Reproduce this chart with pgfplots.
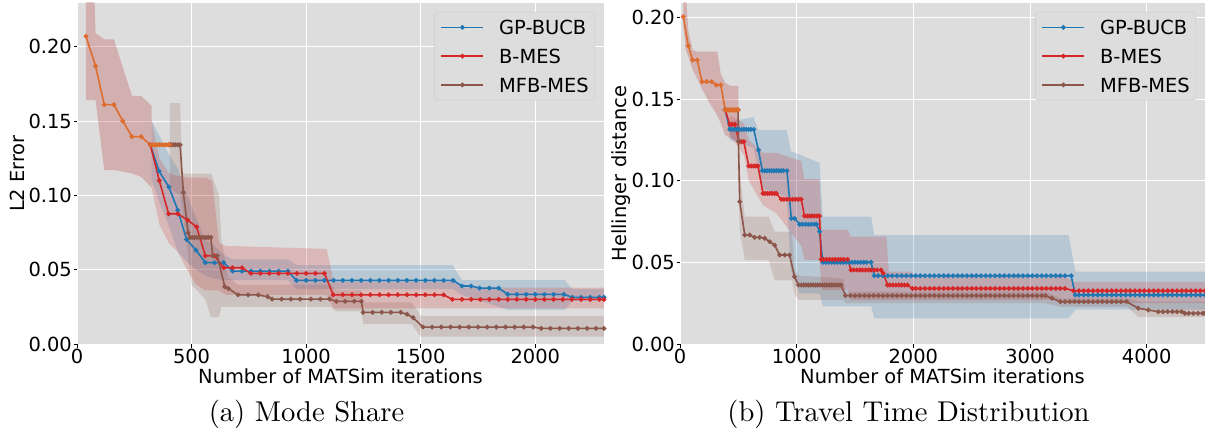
\documentclass[border=0pt]{standalone}
\usepackage{fontspec}
\usepackage{graphicx}
\usepackage{pgfplots}
\usepackage{pgfplotstable}
\pgfplotsset{compat=1.18}
\usepgfplotslibrary{fillbetween}
\newfontfamily\dejavu{DejaVu Sans}
\definecolor{bgc}{RGB}{221,221,221}
\definecolor{cblue}{HTML}{1F77B4}
\definecolor{cred}{HTML}{D62728}
\definecolor{cbrown}{HTML}{8C564B}
\definecolor{corange}{RGB}{222,108,45}
\definecolor{legedge}{RGB}{204,204,204}

% ---------- band tables (left: Mode Share) ----------
\pgfplotstableread{
x lo hi
39 0.164 0.240
75 0.164 0.240
81 0.164 0.209
119 0.117 0.205
161 0.117 0.205
200 0.116 0.186
240 0.1147 0.167
280 0.1124 0.167
320 0.106 0.161
326 0.105 0.160
}\bandSL
\pgfplotstableread{
x lo hi
326 0.110 0.150
360 0.095 0.140
400 0.080 0.128
440 0.062 0.118
480 0.055 0.100
520 0.050 0.085
560 0.046 0.070
600 0.044 0.066
640 0.043 0.060
680 0.043 0.057
920 0.043 0.057
960 0.037 0.053
1640 0.037 0.053
1680 0.033 0.043
1880 0.023 0.043
2130 0.023 0.043
2160 0.029 0.037
2300 0.029 0.037
}\bandBL
\pgfplotstableread{
x lo hi
326 0.105 0.150
360 0.080 0.125
400 0.068 0.115
440 0.062 0.113
480 0.050 0.112
520 0.040 0.112
560 0.036 0.112
590 0.036 0.110
620 0.036 0.068
650 0.033 0.066
1090 0.033 0.064
1120 0.024 0.042
1640 0.024 0.042
1680 0.024 0.038
2300 0.024 0.038
}\bandRL
\pgfplotstableread{
x lo hi
405 0.105 0.162
450 0.100 0.162
460 0.090 0.1147
500 0.040 0.1147
560 0.030 0.1147
585 0.018 0.1147
620 0.018 0.100
630 0.025 0.070
660 0.025 0.045
700 0.025 0.040
1110 0.025 0.040
1130 0.022 0.036
1240 0.022 0.036
1250 0.0134 0.028
1460 0.0134 0.028
1500 0.005 0.019
2300 0.005 0.019
}\bandNL

% ---------- band tables (right: Travel Time) ----------
\pgfplotstableread{
x lo hi
28 0.195 0.215
50 0.180 0.215
71 0.176 0.192
108 0.168 0.180
150 0.162 0.179
190 0.156 0.179
250 0.148 0.179
320 0.140 0.179
350 0.135 0.165
387 0.128 0.160
430 0.126 0.158
498 0.124 0.158
}\bandSR
\pgfplotstableread{
x lo hi
427 0.125 0.136
630 0.120 0.139
672 0.105 0.131
710 0.095 0.131
914 0.090 0.131
950 0.045 0.118
1025 0.031 0.116
1196 0.031 0.111
1224 0.023 0.078
1640 0.023 0.078
1665 0.0157 0.0667
3330 0.0157 0.0667
3390 0.021 0.0443
4500 0.021 0.0443
}\bandBR
\pgfplotstableread{
x lo hi
427 0.128 0.140
550 0.115 0.135
590 0.100 0.125
711 0.085 0.117
826 0.080 0.117
1039 0.060 0.112
1067 0.0514 0.101
1196 0.0514 0.101
1215 0.033 0.070
1440 0.033 0.0698
1466 0.027 0.0657
1770 0.027 0.0657
1790 0.027 0.0443
1990 0.027 0.0443
2010 0.027 0.0412
3300 0.027 0.0412
3380 0.025 0.038
4500 0.025 0.038
}\bandRR
\pgfplotstableread{
x lo hi
498 0.110 0.165
505 0.090 0.120
512 0.070 0.105
555 0.0514 0.078
760 0.0514 0.078
811 0.039 0.0688
960 0.039 0.0688
982 0.031 0.045
1016 0.027 0.042
1400 0.027 0.040
1420 0.025 0.032
3130 0.025 0.032
3260 0.0228 0.028
3830 0.0228 0.028
3930 0.0165 0.026
4500 0.0165 0.026
}\bandNR

\pgfplotsset{
  legend image code/.code={\draw[mark repeat=2,mark phase=2,#1] plot coordinates {(0bp,0bp) (21bp,0bp) (42bp,0bp)};},
  myaxis/.style={
    scale only axis, anchor=south west,
    axis background/.style={fill=bgc},
    axis line style={draw=none},
    xmajorgrids, ymajorgrids, grid style={white, line width=1bp},
    tick align=outside, tick pos=left, major tick length=3.5bp,
    tick style={black, line width=0.8bp},
    ticklabel style={font=\dejavu\fontsize{19.5}{23}\selectfont},
    /pgf/number format/assume math mode=true,
    /pgf/number format/1000 sep={},
    yticklabel style={/pgf/number format/fixed, /pgf/number format/fixed zerofill, /pgf/number format/precision=2, inner xsep=1.5bp},
    xticklabel style={inner ysep=1.5bp},
    scaled y ticks=false, scaled x ticks=false,
    label style={font=\dejavu\fontsize{19.5}{23}\selectfont},
    xlabel style={at={(axis description cs:0.5,0)}, anchor=base, yshift=-39bp},
    legend cell align=left,
    legend style={at={(1,1)}, anchor=north east, xshift=-9bp, yshift=-9bp,
      fill=bgc, draw=legedge, rounded corners=3bp,
      font=\dejavu\fontsize{19.5}{23}\selectfont,
      inner xsep=6bp, inner ysep=8bp, row sep=14.5bp, column sep=15bp,
      nodes={anchor=west, inner sep=0bp, text height=14.3bp, text depth=0bp}},
  },
  sb/.style={color=cblue, line width=1.6bp, mark=*, mark size=1.5bp},
  sr/.style={color=cred, line width=1.6bp, mark=*, mark size=1.5bp},
  sn/.style={color=cbrown, line width=1.6bp, mark=*, mark size=1.5bp},
  so/.style={color=corange, line width=1.6bp, mark=*, mark size=1.5bp},
}

\begin{document}
\begin{tikzpicture}

% ================= LEFT =================
\begin{axis}[myaxis,
  at={(77bp,-344bp)}, width=527bp, height=341bp,
  xmin=0, xmax=2300, ymin=0, ymax=0.2294,
  xtick={0,500,1000,1500,2000}, ytick={0,0.05,0.10,0.15,0.20},
  xlabel={Number of MATSim iterations},
  ylabel={L2 Error},
  ylabel style={at={(axis description cs:-0.0987,0.5)}, anchor=base},
]
\addplot[name path=SLu, draw=none, forget plot] table[x=x,y=hi]{\bandSL};
\addplot[name path=SLl, draw=none, forget plot] table[x=x,y=lo]{\bandSL};
\addplot[fill=cred!55!cbrown, fill opacity=0.28, draw=none, forget plot] fill between[of=SLu and SLl];
\addplot[name path=BLu, draw=none, forget plot] table[x=x,y=hi]{\bandBL};
\addplot[name path=BLl, draw=none, forget plot] table[x=x,y=lo]{\bandBL};
\addplot[fill=cblue, fill opacity=0.2, draw=none, forget plot] fill between[of=BLu and BLl];
\addplot[name path=RLu, draw=none, forget plot] table[x=x,y=hi]{\bandRL};
\addplot[name path=RLl, draw=none, forget plot] table[x=x,y=lo]{\bandRL};
\addplot[fill=cred, fill opacity=0.2, draw=none, forget plot] fill between[of=RLu and RLl];
\addplot[name path=NLu, draw=none, forget plot] table[x=x,y=hi]{\bandNL};
\addplot[name path=NLl, draw=none, forget plot] table[x=x,y=lo]{\bandNL};
\addplot[fill=cbrown, fill opacity=0.2, draw=none, forget plot] fill between[of=NLu and NLl];

\addplot[sb] coordinates {(320,0.134)(358,0.1163)(401,0.1057)(440,0.090)(478,0.0703)(519,0.0632)(560,0.0547)(600,0.0547)(640,0.0547)(679,0.049)(720,0.049)(760,0.049)(800,0.049)(840,0.049)(880,0.049)(920,0.049)(958,0.0428)(1000,0.0428)(1040,0.0428)(1080,0.0428)(1120,0.0428)(1160,0.0428)(1200,0.0428)(1240,0.0428)(1280,0.0428)(1320,0.0428)(1360,0.0428)(1400,0.0428)(1440,0.0428)(1480,0.0428)(1520,0.0428)(1560,0.0428)(1600,0.0428)(1641,0.0428)(1680,0.039)(1720,0.039)(1757,0.0376)(1800,0.0376)(1840,0.0376)(1880,0.0334)(1920,0.0334)(1960,0.0334)(2000,0.0334)(2040,0.0334)(2080,0.0334)(2125,0.0334)(2162,0.0314)(2200,0.0314)(2240,0.0314)(2280,0.0314)(2300,0.0314)};
\addlegendentry{GP-BUCB}
\addplot[sr] coordinates {(320,0.134)(359,0.110)(400,0.0876)(440,0.0876)(483,0.0833)(522,0.0788)(560,0.0594)(600,0.0594)(640,0.0513)(679,0.0513)(720,0.0513)(759,0.0475)(800,0.0475)(840,0.0475)(880,0.0475)(920,0.0475)(960,0.0475)(1000,0.0475)(1040,0.0475)(1080,0.0475)(1118,0.0331)(1160,0.0331)(1200,0.0331)(1240,0.0331)(1280,0.0331)(1320,0.0331)(1360,0.0331)(1400,0.0331)(1440,0.0331)(1480,0.0331)(1520,0.0331)(1560,0.0331)(1600,0.0331)(1638,0.030)(1680,0.030)(1720,0.030)(1760,0.030)(1800,0.030)(1840,0.030)(1880,0.030)(1920,0.030)(1960,0.030)(2000,0.030)(2040,0.030)(2080,0.030)(2120,0.030)(2160,0.030)(2200,0.030)(2240,0.030)(2280,0.030)(2300,0.030)};
\addlegendentry{B-MES}
\addplot[sn] coordinates {(405,0.134)(410,0.134)(420,0.134)(430,0.134)(440,0.134)(450,0.134)(464,0.102)(485,0.0748)(493,0.0717)(503,0.0717)(513,0.0717)(523,0.0717)(533,0.0717)(543,0.0717)(553,0.0717)(563,0.0717)(573,0.0717)(584,0.0717)(592,0.0594)(612,0.0594)(645,0.0385)(660,0.0374)(703,0.033)(747,0.033)(791,0.033)(832,0.0318)(852,0.0302)(893,0.0302)(933,0.0302)(974,0.0302)(1021,0.0302)(1062,0.0302)(1102,0.0302)(1132,0.0287)(1170,0.0287)(1210,0.0287)(1241,0.0287)(1249,0.0213)(1290,0.0213)(1330,0.0213)(1370,0.0213)(1413,0.0213)(1440,0.020)(1467,0.0177)(1510,0.0114)(1550,0.0114)(1590,0.0114)(1630,0.0114)(1670,0.0114)(1710,0.0114)(1750,0.0114)(1790,0.0114)(1830,0.0114)(1870,0.0114)(1910,0.0114)(1950,0.0114)(1990,0.0114)(2026,0.0105)(2066,0.0105)(2106,0.0105)(2146,0.0105)(2186,0.0105)(2226,0.0105)(2266,0.0105)(2300,0.0105)};
\addlegendentry{MFB-MES}
\addplot[so, forget plot] coordinates {(39,0.207)(81,0.187)(119,0.161)(161,0.161)(200,0.150)(240,0.1395)(280,0.1395)(320,0.134)(330,0.134)(340,0.134)(350,0.134)(360,0.134)(370,0.134)(380,0.134)(390,0.134)(400,0.134)(405,0.134)};
\end{axis}

% ================= RIGHT =================
\begin{axis}[myaxis,
  at={(680bp,-344bp)}, width=525bp, height=341bp,
  xmin=0, xmax=4500, ymin=0, ymax=0.2088,
  xtick={0,1000,2000,3000,4000}, ytick={0,0.05,0.10,0.15,0.20},
  xlabel={Number of MATSim iterations},
  ylabel={Hellinger distance},
  ylabel style={at={(axis description cs:-0.101,0.5)}, anchor=base},
]
\addplot[name path=SRu, draw=none, forget plot] table[x=x,y=hi]{\bandSR};
\addplot[name path=SRl, draw=none, forget plot] table[x=x,y=lo]{\bandSR};
\addplot[fill=cred!55!cbrown, fill opacity=0.28, draw=none, forget plot] fill between[of=SRu and SRl];
\addplot[name path=BRu, draw=none, forget plot] table[x=x,y=hi]{\bandBR};
\addplot[name path=BRl, draw=none, forget plot] table[x=x,y=lo]{\bandBR};
\addplot[fill=cblue, fill opacity=0.2, draw=none, forget plot] fill between[of=BRu and BRl];
\addplot[name path=RRu, draw=none, forget plot] table[x=x,y=hi]{\bandRR};
\addplot[name path=RRl, draw=none, forget plot] table[x=x,y=lo]{\bandRR};
\addplot[fill=cred, fill opacity=0.2, draw=none, forget plot] fill between[of=RRu and RRl];
\addplot[name path=NRu, draw=none, forget plot] table[x=x,y=hi]{\bandNR};
\addplot[name path=NRl, draw=none, forget plot] table[x=x,y=lo]{\bandNR};
\addplot[fill=cbrown, fill opacity=0.2, draw=none, forget plot] fill between[of=NRu and NRl];

\addplot[sb] coordinates {(387,0.1433)(427,0.1314)(447,0.1314)(467,0.1314)(487,0.1314)(507,0.1314)(527,0.1314)(547,0.1314)(567,0.1314)(587,0.1314)(607,0.1314)(632,0.1314)(672,0.1188)(706,0.1061)(726,0.1061)(746,0.1061)(766,0.1061)(786,0.1061)(806,0.1061)(826,0.1061)(846,0.1061)(866,0.1061)(886,0.1061)(917,0.1061)(954,0.0769)(982,0.0769)(1025,0.0733)(1050,0.0733)(1075,0.0733)(1100,0.0733)(1125,0.0733)(1150,0.0733)(1170,0.0733)(1196,0.0688)(1224,0.050)(1250,0.050)(1275,0.050)(1300,0.050)(1325,0.050)(1350,0.050)(1375,0.050)(1400,0.050)(1425,0.050)(1450,0.050)(1475,0.050)(1500,0.050)(1525,0.050)(1550,0.050)(1575,0.050)(1600,0.050)(1637,0.050)(1665,0.0418)(1700,0.0418)(1740,0.0418)(1780,0.0418)(1820,0.0418)(1860,0.0418)(1900,0.0418)(1940,0.0418)(1980,0.0418)(2020,0.0418)(2060,0.0418)(2100,0.0418)(2140,0.0418)(2180,0.0418)(2220,0.0418)(2260,0.0418)(2300,0.0418)(2340,0.0418)(2380,0.0418)(2420,0.0418)(2460,0.0418)(2500,0.0418)(2540,0.0418)(2580,0.0418)(2620,0.0418)(2660,0.0418)(2700,0.0418)(2740,0.0418)(2780,0.0418)(2820,0.0418)(2860,0.0418)(2900,0.0418)(2940,0.0418)(2980,0.0418)(3020,0.0418)(3060,0.0418)(3100,0.0418)(3140,0.0418)(3180,0.0418)(3220,0.0418)(3260,0.0418)(3300,0.0418)(3353,0.0418)(3388,0.030)(3420,0.030)(3460,0.030)(3500,0.030)(3540,0.030)(3580,0.030)(3620,0.030)(3660,0.030)(3700,0.030)(3740,0.030)(3780,0.030)(3820,0.030)(3860,0.030)(3900,0.030)(3940,0.030)(3980,0.030)(4020,0.030)(4060,0.030)(4100,0.030)(4140,0.030)(4180,0.030)(4220,0.030)(4260,0.030)(4300,0.030)(4340,0.030)(4380,0.030)(4420,0.030)(4460,0.030)(4500,0.030)};
\addlegendentry{GP-BUCB}
\addplot[sr] coordinates {(387,0.1433)(427,0.1345)(447,0.1345)(470,0.1345)(507,0.1239)(527,0.1239)(547,0.1239)(589,0.109)(610,0.109)(632,0.109)(650,0.109)(669,0.109)(711,0.0922)(730,0.0922)(750,0.0922)(770,0.0922)(790,0.0922)(810,0.0922)(826,0.0922)(868,0.0886)(890,0.0886)(915,0.0886)(940,0.0886)(965,0.0886)(990,0.0886)(1015,0.0886)(1039,0.0886)(1067,0.0784)(1090,0.0784)(1110,0.0784)(1130,0.0784)(1150,0.0784)(1175,0.0784)(1196,0.0784)(1210,0.0518)(1230,0.0518)(1255,0.0518)(1280,0.0518)(1305,0.0518)(1330,0.0518)(1355,0.0518)(1380,0.0518)(1405,0.0518)(1437,0.0518)(1466,0.0453)(1490,0.0453)(1515,0.0453)(1540,0.0453)(1565,0.0453)(1590,0.0453)(1615,0.0453)(1640,0.0453)(1665,0.0453)(1690,0.0453)(1722,0.0453)(1742,0.0433)(1779,0.0361)(1800,0.0361)(1825,0.0361)(1850,0.0361)(1875,0.0361)(1900,0.0361)(1925,0.0361)(1950,0.0361)(1993,0.034)(2020,0.034)(2060,0.034)(2100,0.034)(2140,0.034)(2180,0.034)(2220,0.034)(2260,0.034)(2300,0.034)(2340,0.034)(2380,0.034)(2420,0.034)(2460,0.034)(2500,0.034)(2540,0.034)(2580,0.034)(2620,0.034)(2660,0.034)(2700,0.034)(2740,0.034)(2780,0.034)(2820,0.034)(2860,0.034)(2900,0.034)(2940,0.034)(2980,0.034)(3020,0.034)(3060,0.034)(3100,0.034)(3140,0.034)(3180,0.034)(3220,0.034)(3260,0.034)(3300,0.034)(3373,0.0326)(3420,0.0326)(3460,0.0326)(3500,0.0326)(3540,0.0326)(3580,0.0326)(3620,0.0326)(3660,0.0326)(3700,0.0326)(3740,0.0326)(3780,0.0326)(3820,0.0326)(3860,0.0326)(3900,0.0326)(3940,0.0326)(3980,0.0326)(4020,0.0326)(4060,0.0326)(4100,0.0326)(4140,0.0326)(4180,0.0326)(4220,0.0326)(4260,0.0326)(4300,0.0326)(4340,0.0326)(4380,0.0326)(4420,0.0326)(4460,0.0326)(4500,0.0326)};
\addlegendentry{B-MES}
\addplot[sn] coordinates {(498,0.1433)(501,0.124)(512,0.0871)(555,0.0667)(598,0.0667)(640,0.0653)(683,0.0653)(726,0.0647)(769,0.0626)(811,0.0606)(854,0.0545)(897,0.0545)(939,0.0545)(982,0.0412)(1016,0.0361)(1040,0.0361)(1060,0.0361)(1080,0.0361)(1100,0.0361)(1120,0.0361)(1140,0.0361)(1160,0.0361)(1180,0.0361)(1200,0.0361)(1220,0.0361)(1240,0.0361)(1260,0.0361)(1280,0.0361)(1300,0.0361)(1320,0.0361)(1340,0.0361)(1360,0.0361)(1380,0.0361)(1418,0.0296)(1460,0.0296)(1500,0.0296)(1540,0.0296)(1580,0.0296)(1620,0.0296)(1660,0.0296)(1700,0.0296)(1740,0.0296)(1780,0.0296)(1820,0.0296)(1860,0.0296)(1900,0.0296)(1940,0.0296)(1980,0.0296)(2020,0.0296)(2060,0.0296)(2100,0.0296)(2140,0.0296)(2180,0.0296)(2220,0.0296)(2260,0.0296)(2300,0.0296)(2340,0.0296)(2380,0.0296)(2420,0.0296)(2460,0.0296)(2500,0.0296)(2540,0.0296)(2580,0.0296)(2620,0.0296)(2660,0.0296)(2700,0.0296)(2740,0.0296)(2780,0.0296)(2820,0.0296)(2860,0.0296)(2900,0.0296)(2940,0.0296)(2980,0.0296)(3020,0.0296)(3060,0.0296)(3100,0.0296)(3131,0.0296)(3188,0.028)(3260,0.0259)(3300,0.0259)(3340,0.0259)(3380,0.0259)(3420,0.0259)(3460,0.0259)(3500,0.0259)(3540,0.0259)(3580,0.0259)(3620,0.0259)(3660,0.0259)(3700,0.0259)(3740,0.0259)(3780,0.0259)(3828,0.0259)(3928,0.0219)(4014,0.0208)(4099,0.0198)(4140,0.0198)(4180,0.0198)(4220,0.0198)(4260,0.0198)(4300,0.0198)(4327,0.0188)(4360,0.0188)(4400,0.0188)(4440,0.0188)(4480,0.0188)(4500,0.0188)};
\addlegendentry{MFB-MES}
\addplot[so, forget plot] coordinates {(28,0.2004)(71,0.1826)(108,0.1739)(148,0.1739)(188,0.1606)(228,0.1606)(271,0.1606)(310,0.1586)(350,0.1586)(387,0.1433)(397,0.1433)(407,0.1433)(417,0.1433)(427,0.1433)(437,0.1433)(447,0.1433)(457,0.1433)(467,0.1433)(477,0.1433)(487,0.1433)(498,0.1433)};
\end{axis}

\node[anchor=base, inner sep=0pt] at (306.5bp,-421bp) {\scalebox{2.87}{(a) Mode Share}};
\node[anchor=base, inner sep=0pt] at (908.5bp,-421bp) {\scalebox{2.87}{(b) Travel Time Distribution}};
\pgfresetboundingbox
\useasboundingbox (0,0) rectangle (1205bp,-437bp);
\end{tikzpicture}
\end{document}
